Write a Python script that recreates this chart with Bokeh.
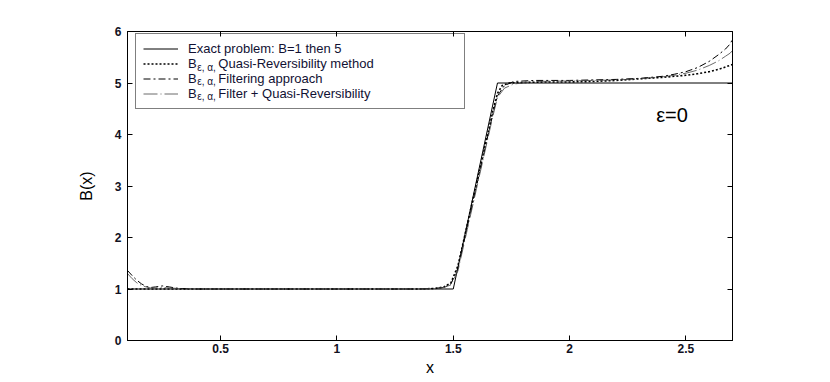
from bokeh.plotting import figure
from bokeh.models import LinearAxis, FixedTicker, Legend, LegendItem, Label, Range1d
from bokeh.embed import file_html
from bokeh.resources import INLINE

# ---- data ----
x_exact = [0.1, 1.5, 1.69, 2.7]
b_exact = [1.0, 1.0, 5.0, 5.0]

x_qr = [0.1, 0.2, 0.4, 0.6, 0.8, 1.0, 1.2, 1.35, 1.42, 1.46, 1.49, 1.52, 1.56, 1.6,
        1.64, 1.67, 1.69, 1.71, 1.74, 1.8, 1.9, 2.0, 2.1, 2.2, 2.3, 2.4, 2.5, 2.55,
        2.6, 2.65, 2.7]
b_qr = [1.0, 1.0, 1.0, 1.0, 1.0, 1.0, 1.0, 1.0, 1.01, 1.04, 1.12, 1.45, 2.25, 3.05,
        3.85, 4.45, 4.8, 4.95, 5.0, 5.01, 5.02, 5.02, 5.03, 5.05, 5.08, 5.11, 5.15, 5.18,
        5.22, 5.28, 5.36]

x_filt = [0.1, 0.12, 0.14, 0.16, 0.18, 0.2, 0.22, 0.25, 0.28, 0.32, 0.4, 0.6, 0.8, 1.0,
          1.2, 1.35, 1.42, 1.46, 1.49, 1.52, 1.56, 1.6, 1.64, 1.67, 1.69, 1.72, 1.76,
          1.85, 2.0, 2.1, 2.2, 2.3, 2.4, 2.45, 2.5, 2.55, 2.6, 2.64, 2.67, 2.69, 2.7]
b_filt = [1.36, 1.26, 1.17, 1.1, 1.05, 1.03, 1.04, 1.06, 1.04, 1.01, 1.0, 1.0, 1.0, 1.0,
          1.0, 1.0, 1.01, 1.03, 1.1, 1.4, 2.2, 3.0, 3.8, 4.4, 4.75, 4.95, 5.03,
          5.05, 5.05, 5.06, 5.07, 5.09, 5.13, 5.17, 5.22, 5.3, 5.42, 5.55, 5.66, 5.76, 5.85]

x_fqr = [0.1, 0.12, 0.14, 0.16, 0.18, 0.2, 0.22, 0.25, 0.28, 0.32, 0.4, 0.6, 0.8, 1.0,
         1.2, 1.35, 1.42, 1.46, 1.49, 1.52, 1.56, 1.6, 1.64, 1.67, 1.69, 1.72, 1.76,
         1.85, 2.0, 2.1, 2.2, 2.3, 2.4, 2.45, 2.5, 2.55, 2.6, 2.64, 2.67, 2.69, 2.7]
b_fqr = [1.3, 1.2, 1.12, 1.07, 1.04, 1.02, 1.02, 1.03, 1.02, 1.01, 1.0, 1.0, 1.0, 1.0,
         1.0, 1.0, 1.01, 1.03, 1.08, 1.35, 2.15, 2.95, 3.75, 4.35, 4.72, 4.9, 4.98,
         5.03, 5.04, 5.05, 5.06, 5.08, 5.12, 5.15, 5.19, 5.25, 5.34, 5.43, 5.52, 5.58, 5.63]

x_ticks = [0.5, 1, 1.5, 2, 2.5]
y_ticks = [0, 1, 2, 3, 4, 5, 6]

legend_labels = ["Exact problem: B=1 then 5",
                 "B      Quasi-Reversibility method",
                 "B      Filtering approach",
                 "B      Filter + Quasi-Reversibility"]
sub_label = "\u03b5, \u03b1,"

FONT = "Liberation Sans"

p = figure(width=822, height=374, frame_width=605, frame_height=309,
           x_range=Range1d(0.1, 2.7), y_range=Range1d(0, 6),
           output_backend="svg", toolbar_location=None,
           min_border_left=127, min_border_top=31, min_border_right=90,
           min_border_bottom=34)
p.xgrid.visible = False
p.ygrid.visible = False
p.outline_line_color = "black"
p.outline_line_alpha = 1
p.background_fill_color = "white"

def style_axis(ax, ticks, show_labels):
    ax.ticker = FixedTicker(ticks=ticks)
    ax.major_tick_in = 5
    ax.major_tick_out = 0
    ax.minor_tick_line_color = None
    ax.axis_line_color = "black"
    ax.major_tick_line_color = "black"
    ax.major_label_text_font = FONT
    ax.major_label_text_font_style = "bold"
    ax.major_label_text_font_size = "12px"
    if show_labels:
        ax.major_label_text_color = "#111122"
    else:
        ax.major_label_text_color = None

style_axis(p.xaxis[0], x_ticks, True)
style_axis(p.yaxis[0], y_ticks, True)
p.xaxis[0].major_label_standoff = 3
p.yaxis[0].major_label_standoff = 6
p.xaxis[0].axis_label = "x"
p.yaxis[0].axis_label = "B(x)"
for ax in (p.xaxis[0], p.yaxis[0]):
    ax.axis_label_text_font = FONT
    ax.axis_label_text_font_style = "normal"
    ax.axis_label_text_font_size = "16px"
    ax.axis_label_text_color = "black"
p.xaxis[0].axis_label_standoff = 3
p.yaxis[0].axis_label_standoff = 17

top = LinearAxis()
style_axis(top, x_ticks, False)
p.add_layout(top, "above")
right = LinearAxis()
style_axis(right, y_ticks, False)
p.add_layout(right, "right")

r_exact = p.line(x_exact, b_exact, line_color="black", line_width=1)
r_qr = p.line(x_qr, b_qr, line_color="black", line_width=1.6, line_dash="2 2")
r_filt = p.line(x_filt, b_filt, line_color="black", line_width=1, line_dash="7 3 2 3")
r_fqr = p.line(x_fqr, b_fqr, line_color="#444444", line_width=0.8, line_dash="14 3 1 3")

items = [LegendItem(label=legend_labels[i], renderers=[r]) for i, r in
         enumerate([r_exact, r_qr, r_filt, r_fqr])]
legend = Legend(items=items, location=(8, 231), padding=7, spacing=0,
                label_height=15, glyph_height=15, glyph_width=35,
                label_standoff=10, label_width=269,
                label_text_font=FONT, label_text_font_size="13px",
                label_text_color="#111133",
                border_line_color="black", border_line_width=1,
                background_fill_alpha=0)
p.add_layout(legend, "center")

# subscripts epsilon, alpha in the legend rows
for yv in [5.31, 5.02, 4.73]:
    p.add_layout(Label(x=0.40, y=yv, text=sub_label, text_font=FONT,
                       text_font_size="10px", text_color="#111133",
                       text_baseline="middle", text_align="left"))

p.add_layout(Label(x=2.44, y=4.37, text="\u03b5=0", text_font=FONT,
                   text_font_size="20px", text_color="black",
                   text_baseline="middle", text_align="center"))

open("out.html", "w").write(file_html(p, INLINE))
